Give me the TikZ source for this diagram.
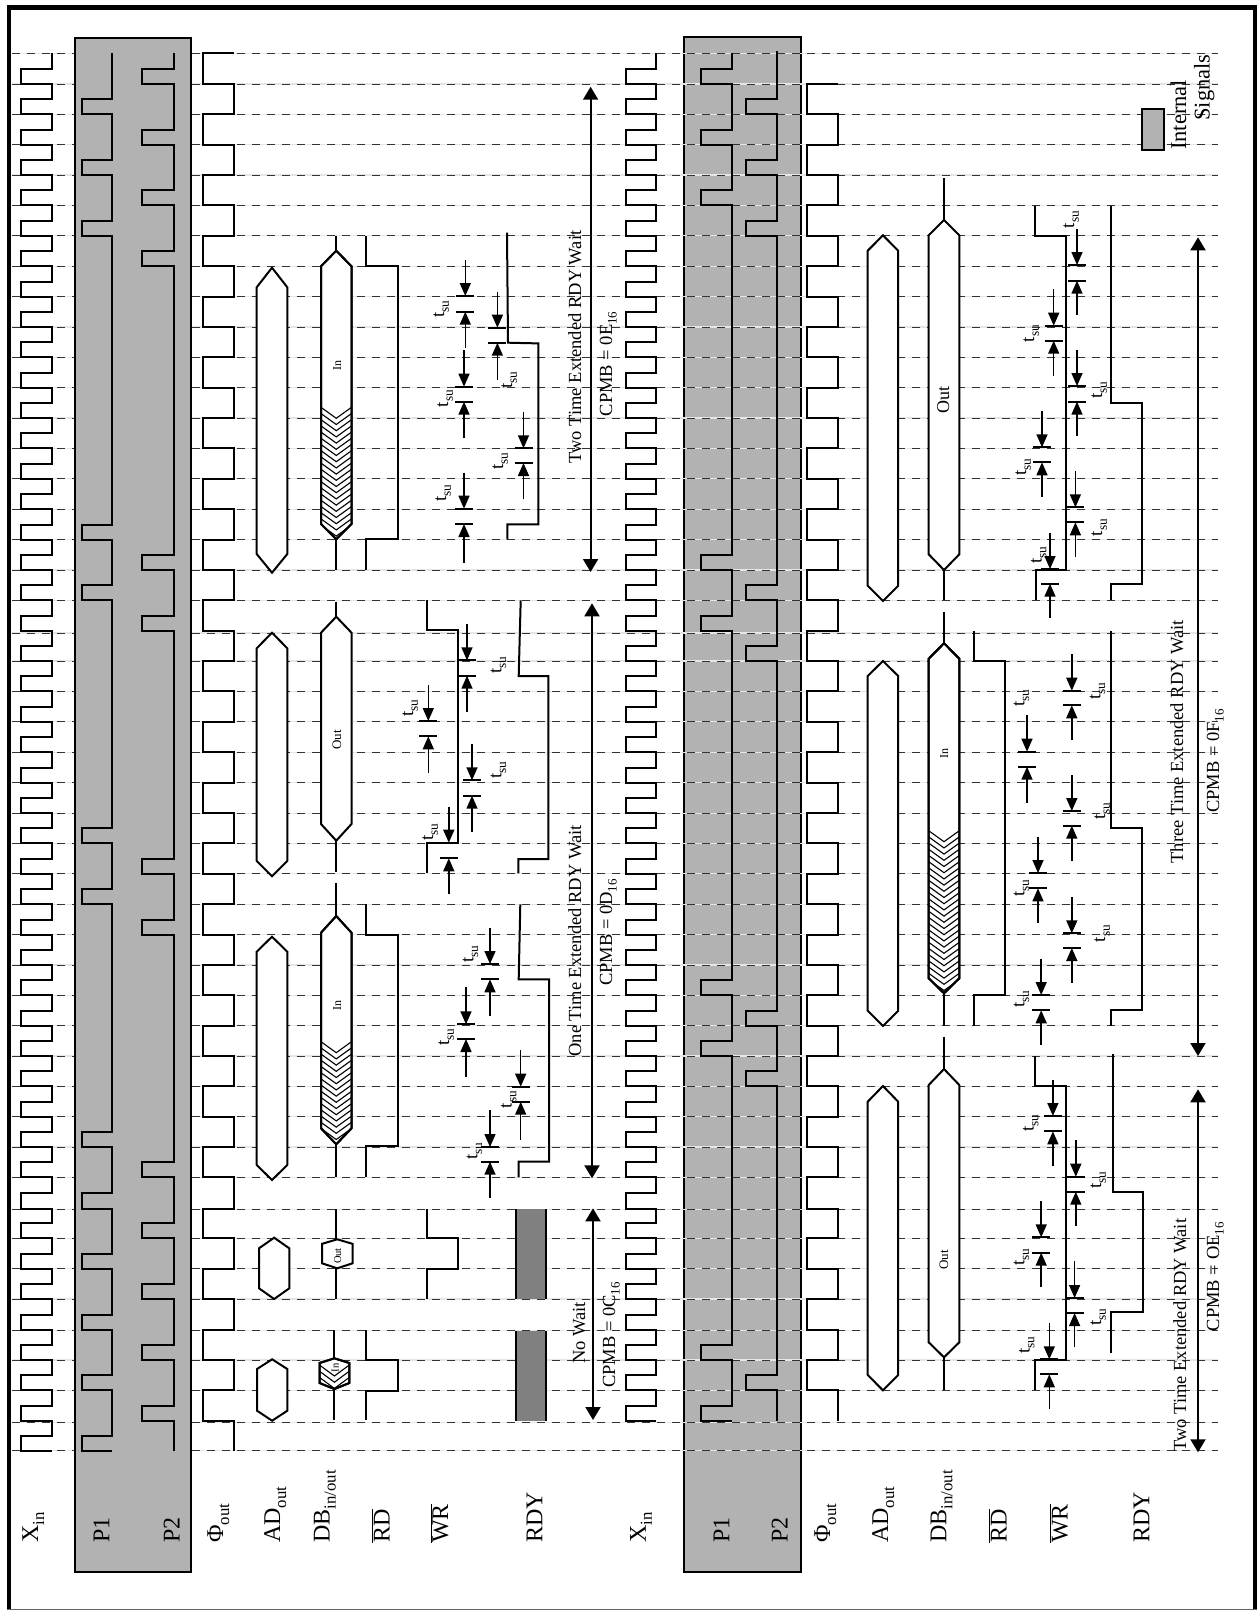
\documentclass[tikz,border=0pt]{standalone}
\usepackage{fontspec}
\usepackage{graphicx}
\setmainfont{Liberation Serif}
\usetikzlibrary{arrows.meta}
\pgfmathdeclarefunction{gy}{1}{\pgfmathparse{{53.3,84,114.3,144.7,175,205.3,235.7,266.3,296.7,327,357.3,387.7,418,448.3,478.7,509.3,539.7,570,600.3,630.7,661,691.3,721.7,752.3,782.7,813.3,843.3,873.7,904.3,934.7,965,995.3,1025.7,1056,1086.3,1116.7,1147,1177.3,1208.6,1238.3,1268.7,1299,1330.3,1360,1390.3,1420.9,1450.7}[int(#1)]}}
\pgfmathdeclarefunction{gm}{1}{\pgfmathparse{(gy(#1)+gy(#1+1))/2}}
\definecolor{boxgray}{HTML}{B2B2B2}
\definecolor{bargray}{HTML}{808080}
\definecolor{dashcol}{HTML}{333333}
\definecolor{ghost}{HTML}{E6E6E6}
\tikzset{
  sig/.style={line width=2pt,black,line join=miter},
  thinsig/.style={line width=1.2pt,black},
  tarr/.style={line width=1.5pt,black,-{Triangle[width=11pt,length=13pt]}},
  tbar/.style={line width=2.2pt,black},
  bigarr/.style={line width=2pt,black,{Triangle[width=15pt,length=13pt]}-{Triangle[width=15pt,length=13pt]}},
  rot/.style={rotate=90,inner sep=0pt,anchor=base,text=black},
  gridghost/.style={line width=1.2pt,ghost},
  griddash/.style={line width=1pt,dashcol,dash pattern=on 8pt off 7pt},
  boxstyle/.style={line width=2pt,black,fill=boxgray},
}
\newcounter{nn}
\newcommand\sbt[1]{\raisebox{-.25em}{\scalebox{0.7}{#1}}}
\newcommand\lbl[4]{\stepcounter{nn}\node[rot,font=\fontsize{#3}{#3}\selectfont] (t\arabic{nn}) at (#1,#2) {#4};}
\newcommand\tlab[2]{\lbl{#1}{#2}{19}{t\sbt{su}}}
\newcommand\tsu[5]{\draw[tarr] (#1,#2) -- (#1,#3); \draw[tarr] (#1,#5) -- (#1,#4);
  \draw[tbar] (#1-9,#3) -- (#1+9,#3); \draw[tbar] (#1-9,#4) -- (#1+9,#4);}
\newcommand\xinwave[3]{\draw[sig] (#2,{gy(0)}) \foreach \i in {0,...,#3} { -- (#2,{gm(\i)}) -- (#1,{gm(\i)}) -- (#1,{gy(\i+1)}) -- (#2,{gy(\i+1)}) };}
\newcommand\pulses[5]{\draw[sig] (#2,#3) \foreach \j in {#4} { -- (#2,{gm(\j-1)}) -- (#1,{gm(\j-1)}) -- (#1,{gy(\j)}) -- (#2,{gy(\j)}) } #5;}
\newcommand\bus[6]{\draw[sig,fill=white] ({(#1+#2)/2},#3) -- (#2,#4) -- (#2,#5) -- ({(#1+#2)/2},#6) -- (#1,#5) -- (#1,#4) -- cycle;}
% xl xr tip shoulder shoulderB tipB hatchstart
\newcommand\hbus[7]{\bus{#1}{#2}{#3}{#4}{#5}{#6}
  \begin{scope}
  \clip ({(#1+#2)/2},#3) -- (#2,#4) -- (#2,#5) -- ({(#1+#2)/2},#6) -- (#1,#5) -- (#1,#4) -- cycle;
  \pgfmathsetmacro\hnext{#7+6.2}
  \foreach \y in {#7,\hnext,...,#6} {\draw[line width=1.1pt] (#1,\y) -- ({(#1+#2)/2},\y+11) -- (#2,\y);}
  \end{scope}
  \draw[sig] ({(#1+#2)/2},#3) -- (#2,#4) -- (#2,#5) -- ({(#1+#2)/2},#6) -- (#1,#5) -- (#1,#4) -- cycle;}
\begin{document}
\begin{tikzpicture}[x=1pt,y=-1pt]
\useasboundingbox (0,0) rectangle (1257,1610);
\fill[white] (0,0) rectangle (1257,1610);
% frame
\fill[black] (7.2,5) rectangle (11.2,1610);
\fill[black] (7.2,5) rectangle (1257,10);
\fill[black] (1253,5) rectangle (1257,1610);
\fill[black!60] (7.2,1608.8) rectangle (1257,1610);
% second box under grid
\draw[boxstyle] (683.7,37.3) rectangle (800.6,1572.3);
% grid
\foreach \y in {53.3,84,114.3,144.7,175,205.3,235.7,266.3,296.7,327,357.3,387.7,418,448.3,478.7,509.3,539.7,570,600.3,633,661,691.3,721.7,752.3,782.7,813.3,843.3,873.7,904.3,934.7,965,995.3,1025.7,1056,1086.3,1116.7,1147,1177.3,1209.3,1238.3,1268.7,1299,1330.7,1360,1390.3,1422.7,1450.7} {
  \draw[gridghost] (12,\y) -- (1217.6,\y);
  \draw[griddash] (12,\y) -- (1217.6,\y);
}
% first box over grid
\draw[boxstyle] (74.7,37.7) rectangle (191.2,1572.3);
% Xin
\xinwave{20.9}{52.2}{45}
\xinwave{625.6}{656}{44}
% P1, P2 (first)
\pulses{82}{112.3}{53.3}{2,4,6,16,18,26,28,36,38,40,42,44,46}{}
\pulses{142.2}{173.6}{53.3}{1,3,5,7,17,19,27,29,37,39,41,43,45}{-- (173.6,1450.7)}
% P1, P2 (second)
\pulses{700.5}{731.5}{53.3}{1,3,5,17,19,31,33,43,45}{}
\pulses{746.3}{776.9}{51}{2,4,6,18,20,32,34,44}{-- (776.9,1420.9)}
% Phi out
\draw[sig] (233.8,{gy(0)}) -- (203.3,{gy(0)}) \foreach \i in {1,3,...,43} { -- (203.3,{gy(\i)}) -- (233.8,{gy(\i)}) -- (233.8,{gy(\i+1)}) -- (203.3,{gy(\i+1)}) } -- (203.3,{gy(45)}) -- (233.8,{gy(45)}) -- (233.8,{gy(46)});
\draw[sig] (838,{gy(1)}) -- (807,{gy(1)}) \foreach \i in {2,4,...,42} { -- (807,{gy(\i)}) -- (838,{gy(\i)}) -- (838,{gy(\i+1)}) -- (807,{gy(\i+1)}) } -- (807,{gy(44)}) -- (838,{gy(44)}) -- (838,{gy(45)});
% AD out first
\bus{256.7}{287.3}{267.7}{287.3}{554}{572.7}
\bus{256.7}{287.3}{632.7}{648.3}{861}{876.3}
\bus{256.7}{287.3}{936.7}{951.7}{1165}{1180}
\bus{259}{289.3}{1237.7}{1248.3}{1288.3}{1299}
\bus{257}{287.3}{1359.3}{1369}{1410.7}{1420.7}
% DB first
\draw[sig] (336.3,235.7) -- (336.3,252);
\draw[sig] (336.3,538) -- (336.3,570);
\hbus{321}{351.5}{250.7}{266.3}{524}{539.3}{407.3}
\draw[sig] (336.3,602) -- (336.3,618);
\draw[sig] (336.3,840) -- (336.3,871.7);
\bus{321}{351.5}{616.7}{632.7}{824}{840.7}
\draw[sig] (336.3,883.3) -- (336.3,917);
\draw[sig] (336.3,1143) -- (336.3,1177.3);
\hbus{321}{351.5}{916}{932.7}{1128.3}{1144.3}{1041.7}
\draw[sig] (336.3,1209.3) -- (336.3,1240);
\draw[sig] (336.3,1267) -- (336.3,1299);
\bus{322}{352.5}{1239.3}{1243.8}{1263.3}{1268.3}
\draw[sig] (334,1330.3) -- (334,1359);
\draw[sig] (334,1388) -- (334,1420);
\hbus{319.5}{349.3}{1358.3}{1363}{1383}{1389}{1365}
% RD first
\draw[sig] (366.4,235.7) -- (366.4,266.3) -- (397.7,266.3) -- (397.7,539.3) -- (366.4,539.3) -- (366.4,570);
\draw[sig] (366.4,904.3) -- (366.4,935) -- (397.7,935) -- (397.7,1146) -- (366.4,1146) -- (366.4,1176.7);
\draw[sig] (366.4,1330) -- (366.4,1360) -- (397.7,1360) -- (397.7,1390.7) -- (366.4,1390.7) -- (366.4,1420);
% WR first
\draw[sig] (427,600.3) -- (427,630) -- (458,630) -- (458,842.7) -- (427,842.7) -- (427,873.3);
\draw[sig] (427,1209) -- (427,1238.3) -- (458,1238.3) -- (458,1268.7) -- (427,1268.7) -- (427,1299);
% RDY first
\draw[sig] (507,232.7) -- (508,342.7) -- (538.4,343.4) -- (538.4,524.3) -- (507.4,524.3) -- (507.4,539.3);
\draw[sig] (520.7,600.3) -- (518.7,676) -- (548.4,676) -- (548.4,859) -- (518.3,859) -- (518.3,873.3);
\draw[sig] (520.3,904.3) -- (518.7,979.3) -- (549.2,979.3) -- (549.2,1161.7) -- (518.7,1161.7) -- (518.7,1177.3);
\fill[bargray] (515.5,1209.3) rectangle (546,1299);
\fill[bargray] (515.5,1331) rectangle (546,1420.7);
\draw[sig] (515.5,1209.3) -- (515.5,1299);
\draw[sig] (546,1209.3) -- (546,1299);
\draw[sig] (515.5,1331) -- (515.5,1420.7);
\draw[sig] (546,1331) -- (546,1420.7);
% AD second
\bus{867.7}{898.2}{235.3}{250.7}{585.7}{601}
\bus{867.7}{898.2}{661}{676}{1010.7}{1026}
\bus{867.7}{898.2}{1086}{1101.7}{1375}{1390.3}
% DB second
\draw[sig] (944,178.3) -- (944,221);
\draw[sig] (944,569) -- (944,600.3);
\bus{928.7}{959.3}{220}{235.3}{554.3}{570}
\draw[sig] (944,611.7) -- (944,644);
\draw[sig] (944,992) -- (944,1025.7);
\hbus{928.7}{959.3}{643.3}{658.7}{978.3}{993.3}{830.7}
\draw[sig] (944,1036.7) -- (944,1070);
\draw[sig] (944,1356) -- (944,1390);
\bus{928.7}{959.3}{1069}{1085}{1342.3}{1357.3}
% RD second
\draw[sig] (973.7,630.7) -- (973.7,661) -- (1004.7,661) -- (1004.7,995) -- (973.7,995) -- (973.7,1025.7);
% WR second
\draw[sig] (1034.8,205.7) -- (1034.8,235.7) -- (1065.7,235.7) -- (1065.7,569.7) -- (1035.5,569.7) -- (1035.5,600.3);
\draw[sig] (1034.8,1056) -- (1034.8,1086) -- (1065.7,1086) -- (1065.7,1360) -- (1034.8,1360) -- (1034.8,1390);
% RDY second
\draw[sig] (1110.7,205.7) -- (1110.7,402.7) -- (1141.7,402.7) -- (1141.7,584.3) -- (1110.7,584.3) -- (1110.7,600.3);
\draw[sig] (1110.7,631) -- (1110.7,828.3) -- (1141.7,828.3) -- (1141.7,1010) -- (1110.7,1010) -- (1110.7,1025.7);
\draw[sig] (1112.7,1054.3) -- (1112.7,1192) -- (1143.3,1192) -- (1143.3,1311.7) -- (1110.7,1311.7) -- (1110.7,1352.7);
% main arrows
\draw[bigarr] (590.6,86.7) -- (590.6,572);
\draw[bigarr] (592,603.3) -- (592,1178.3);
\draw[bigarr] (593,1208.3) -- (593,1420);
\draw[bigarr] (1198,237.3) -- (1198,1056);
\draw[bigarr] (1198,1089.3) -- (1198,1452.3);
% setup markers, first column
\tsu{465.3}{260}{296}{311.7}{348.3}
\tsu{464}{350}{386.7}{401.7}{438.3}
\tsu{464}{472.7}{508.7}{524}{562.7}
\tsu{497.4}{291.7}{327.7}{342.7}{380}
\tsu{523.5}{411.7}{448.3}{463}{499.3}
\tsu{467}{624.3}{660.3}{675.7}{712.3}
\tsu{428.3}{685}{721}{736.3}{772.7}
\tsu{472}{744.3}{780.3}{795.7}{832.3}
\tsu{448.8}{806.7}{842.7}{858.3}{894.3}
\tsu{490}{927.7}{964}{979.3}{1015.7}
\tsu{466}{987.3}{1024.3}{1039}{1076.7}
\tsu{520.7}{1050.3}{1086.7}{1101.7}{1139.7}
\tsu{490}{1110.3}{1147}{1161.7}{1198}
\tlab{444}{309}
\tlab{448}{398.5}
\tlab{446}{493}
\tlab{512}{380}
\tlab{503}{461}
\tlab{501.4}{665}
\tlab{413}{708}
\tlab{501.4}{770}
\tlab{433}{832}
\tlab{473.3}{954}
\tlab{449}{1037}
\tlab{511.5}{1099.7}
\tlab{477.3}{1151}
% setup markers, second column
\tsu{1077}{229}{265}{280.7}{315}
\tsu{1053.7}{289.3}{325.7}{340.7}{375.7}
\tsu{1077}{350}{386}{401.7}{435.7}
\tsu{1042}{411}{447.3}{462.3}{496.7}
\tsu{1075.4}{471}{507.3}{522.3}{556.7}
\tsu{1050}{532.7}{569}{583.7}{618.3}
\tsu{1071.8}{654.3}{690.7}{705.3}{740}
\tsu{1027}{715}{751.7}{766.7}{803}
\tsu{1071.8}{775}{811}{825.7}{860.7}
\tsu{1038}{836.7}{873}{888.3}{922.7}
\tsu{1071.8}{897}{933.3}{948}{982.7}
\tsu{1041.2}{959}{995}{1010.3}{1045}
\tsu{1052.9}{1080}{1116}{1131.3}{1166}
\tsu{1075.8}{1140.3}{1176.7}{1191.7}{1226}
\tsu{1041.2}{1201}{1237.3}{1252.7}{1287.3}
\tsu{1074.6}{1261.3}{1298}{1313}{1347.3}
\tsu{1049.3}{1323.3}{1359.3}{1374.3}{1409}
\tlab{1074.2}{219.7}
\tlab{1034}{333.7}
\tlab{1102}{390}
\tlab{1026}{467}
\tlab{1102}{527.7}
\tlab{1041.6}{555}
\tlab{1100.3}{691}
\tlab{1024.3}{698}
\tlab{1105}{811}
\tlab{1024.3}{888}
\tlab{1105}{933.5}
\tlab{1024.3}{999}
\tlab{1033.6}{1123}
\tlab{1101}{1180}
\tlab{1024.3}{1257}
\tlab{1101}{1317}
\tlab{1029.6}{1345}
% bus text
\lbl{341}{365}{12}{In}
\lbl{341}{740}{13}{Out}
\lbl{341}{1005}{12}{In}
\lbl{341}{1256}{10.5}{Out}
\lbl{338.5}{1368}{10.5}{In}
\lbl{949}{400}{18}{Out}
\lbl{948}{753}{12}{In}
\lbl{948}{1260}{13}{Out}
% titles
\lbl{581}{347}{18.5}{Two Time Extended RDY Wait}
\lbl{581}{941}{18.5}{One Time Extended RDY Wait}
\lbl{585}{1333}{18.5}{No Wait}
\lbl{612}{364}{18.5}{CPMB = 0E\sbt{16}}
\lbl{612}{932.5}{18.5}{CPMB = 0D\sbt{16}}
\lbl{615}{1335}{18.5}{CPMB = 0C\sbt{16}}
\lbl{1183}{741.7}{18.5}{Three Time Extended RDY Wait}
\lbl{1186}{1335.3}{18.5}{Two Time Extended RDY Wait}
\lbl{1219}{761}{18.5}{CPMB = 0F\sbt{16}}
\lbl{1219}{1276.7}{18.5}{CPMB = OE\sbt{16}}
% legend
\draw[sig,fill=boxgray] (1142,109) rectangle (1164,150.3);
\lbl{1186}{115}{22.5}{Internal}
\lbl{1209.6}{87.5}{22.5}{Signals}
% left labels
\newcommand\llab[2]{\stepcounter{nn}\node[rot,anchor=base west,font=\fontsize{24}{24}\selectfont] (t\arabic{nn}) at (#1,1543) {#2};}
\llab{38.2}{X\sbt{in}}
\llab{109.3}{P1}
\llab{179.6}{P2}
\llab{223}{Φ\sbt{out}}
\llab{280}{AD\sbt{out}}
\llab{329.5}{DB\sbt{in/out}}
\llab{389.7}{$\overline{\mbox{RD}}$}
\llab{448}{$\overline{\mbox{WR}}$}
\llab{542.4}{RDY}
\llab{645.9}{X\sbt{in}}
\llab{729.4}{P1}
\llab{787.7}{P2}
\llab{830}{Φ\sbt{out}}
\llab{888}{AD\sbt{out}}
\llab{946.4}{DB\sbt{in/out}}
\llab{1006.7}{$\overline{\mbox{RD}}$}
\llab{1067.7}{$\overline{\mbox{WR}}$}
\llab{1149.3}{RDY}
\end{tikzpicture}
\end{document}
